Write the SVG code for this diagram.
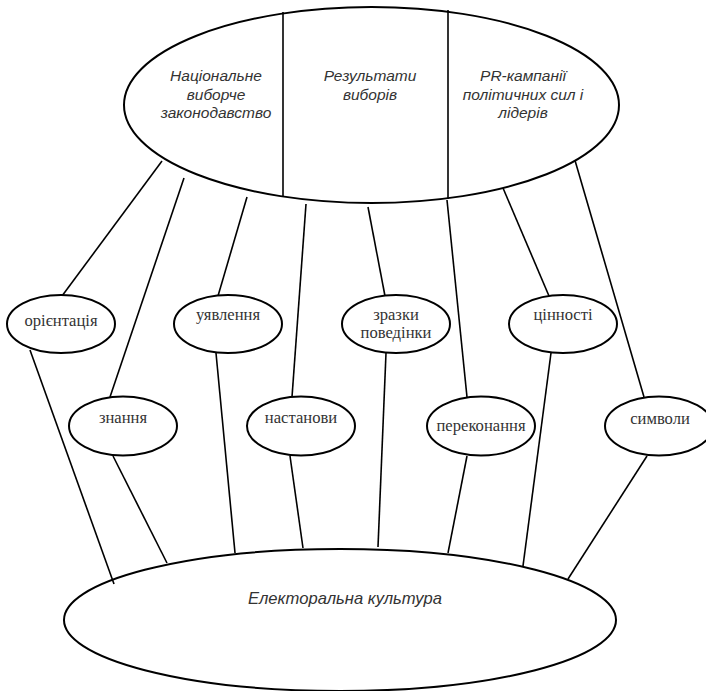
<svg xmlns="http://www.w3.org/2000/svg" width="706" height="691" viewBox="0 0 706 691">
<style>
.sh{fill:#fff;stroke:#000;stroke-width:2}
.ln{stroke:#000;stroke-width:1.6;fill:none}
.it{font-family:'Liberation Sans',Arial,sans-serif;font-style:italic;font-size:15.5px;fill:#333;text-anchor:middle}
.tm{font-family:'Liberation Serif','Times New Roman',serif;font-size:16.6px;fill:#333;text-anchor:middle}
</style>
<rect width="706" height="691" fill="#fff"/>
<g id="connectors">
<line class="ln" x1="162" y1="161" x2="62" y2="296"/>
<line class="ln" x1="30" y1="350" x2="114" y2="584"/>
<line class="ln" x1="184" y1="178" x2="110" y2="397"/>
<line class="ln" x1="113" y1="456" x2="167" y2="563"/>
<line class="ln" x1="247" y1="197" x2="218" y2="296"/>
<line class="ln" x1="216" y1="353" x2="235" y2="553"/>
<line class="ln" x1="306" y1="204" x2="292" y2="397"/>
<line class="ln" x1="290" y1="456" x2="303" y2="548"/>
<line class="ln" x1="368" y1="207" x2="385" y2="296"/>
<line class="ln" x1="386" y1="353" x2="378" y2="547"/>
<line class="ln" x1="447" y1="200" x2="467" y2="397"/>
<line class="ln" x1="467" y1="456" x2="448" y2="553"/>
<line class="ln" x1="503" y1="188" x2="549" y2="296"/>
<line class="ln" x1="551" y1="353" x2="523" y2="566"/>
<line class="ln" x1="574" y1="157" x2="644" y2="397"/>
<line class="ln" x1="647" y1="456" x2="568" y2="579"/>
</g>
<g id="top">
<ellipse class="sh" cx="371.5" cy="105" rx="247.5" ry="98"/>
<line class="ln" x1="283" y1="12" x2="283" y2="197"/>
<line class="ln" x1="448" y1="10" x2="448" y2="199"/>
<text class="it" x="216" y="81">Національне</text>
<text class="it" x="216" y="99.5">виборче</text>
<text class="it" x="216" y="118">законодавство</text>
<text class="it" x="370" y="81">Результати</text>
<text class="it" x="370" y="99.5">виборів</text>
<text class="it" x="523" y="81">PR-кампанії</text>
<text class="it" x="523" y="99.5">політичних сил і</text>
<text class="it" x="523" y="118">лідерів</text>
</g>
<g id="n-orientatsiia"><ellipse class="sh" cx="61" cy="324" rx="54" ry="29"/><text class="tm" x="61" y="326">орієнтація</text></g>
<g id="n-znannia"><ellipse class="sh" cx="123" cy="426" rx="54" ry="29.5"/><text class="tm" x="123" y="423">знання</text></g>
<g id="n-uiavlennia"><ellipse class="sh" cx="228" cy="324" rx="54" ry="29"/><text class="tm" x="228" y="320">уявлення</text></g>
<g id="n-nastanovy"><ellipse class="sh" cx="301" cy="426" rx="54" ry="29.5"/><text class="tm" x="301" y="423">настанови</text></g>
<g id="n-zrazky"><ellipse class="sh" cx="396" cy="324" rx="54" ry="29"/><text class="tm" x="396" y="320">зразки</text><text class="tm" x="396" y="338">поведінки</text></g>
<g id="n-perekonannia"><ellipse class="sh" cx="481" cy="426" rx="54" ry="29.5"/><text class="tm" x="481" y="431">переконання</text></g>
<g id="n-tsinnosti"><ellipse class="sh" cx="563" cy="324" rx="54" ry="29"/><text class="tm" x="563" y="320">цінності</text></g>
<g id="n-symvoly"><ellipse class="sh" cx="659" cy="426" rx="54" ry="29.5"/><text class="tm" x="660" y="424">символи</text></g>
<g id="bottom">
<ellipse class="sh" cx="340" cy="620" rx="276" ry="71" style="fill:none"/>
<text class="it" x="345" y="604" style="font-size:16.6px">Електоральна культура</text>
</g>
</svg>
